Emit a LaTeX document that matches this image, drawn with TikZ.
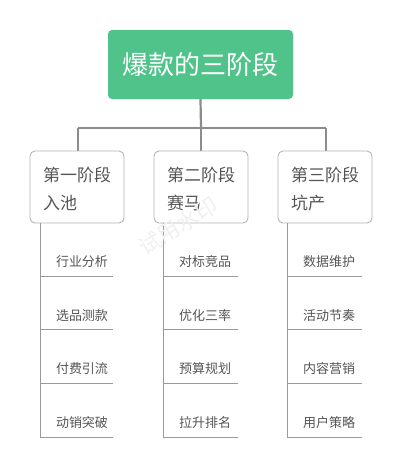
\documentclass[tikz,border=0pt]{standalone}
\usepackage{fontspec}
\setmainfont{Noto Sans CJK SC}
\begin{document}
\begin{tikzpicture}[x=1pt,y=-1pt,
  rootbox/.style={draw=none,fill=rootgreen,rounded corners=4pt,minimum width=185pt,minimum height=69pt,text=white,font=\fontsize{26}{30}\selectfont,inner sep=0pt},
  stagebox/.style={draw=boxgray,line width=0.9pt,fill=white,rounded corners=5pt,minimum width=94pt,minimum height=72pt,inner sep=0pt},
  stagetext/.style={text=textgray,font=\fontsize{17}{28}\selectfont,anchor=west,align=left,inner sep=0pt},
  itemtext/.style={text=textgray,font=\fontsize{13}{15}\selectfont,inner sep=0pt},
  trunk/.style={draw=linegray,line width=2.2pt},
  branch/.style={draw=linegray2,line width=1pt},
]
\definecolor{rootgreen}{HTML}{50C38A}
\definecolor{boxgray}{HTML}{B4B4B4}
\definecolor{textgray}{HTML}{555555}
\definecolor{linegray}{HTML}{8C8C8C}
\definecolor{linegray2}{HTML}{9A9A9A}
\useasboundingbox[fill=white] (0,0) rectangle (402,466);

% root
\node[rootbox] (root) at (200.5,64.5) {爆款的三阶段};

\coordinate (hub) at (201,128);
\coordinate (hl) at (78,128);
\coordinate (hr) at (326,128);
\draw[trunk] (root.south) -- (hub);
\draw[trunk] (hl) -- (hr);
\draw[trunk] (hl) -- (78,151);
\draw[trunk] (hub) -- (201,151);
\draw[trunk] (hr) -- (326,151);

% stage boxes
\node[stagebox] (s1) at (77,187) {};
\node[stagebox] (s2) at (201,187) {};
\node[stagebox] (s3) at (325,187) {};

\node[stagetext] (t1) at (43,189) {第一阶段\\入池};
\node[stagetext] (t2) at (167,189) {第二阶段\\赛马};
\node[stagetext] (t3) at (291,189) {第三阶段\\坑产};

% branches
\foreach \col/\x/\len/\a/\b/\c/\d in {1/40/73/行业分析/选品测款/付费引流/动销突破,
                                       2/163/75/对标竞品/优化三率/预算规划/拉升排名,
                                       3/287/75/数据维护/活动节奏/内容营销/用户策略}{
  \coordinate (top\col) at (\x,223);
  \coordinate (bot\col) at (\x,437);
  \draw[branch] (top\col) -- (bot\col);
  \foreach \i/\yy/\txt in {1/276/\a,2/329.5/\b,3/383/\c,4/437/\d}{
    \coordinate (l\col\i) at (\x,\yy);
    \coordinate (r\col\i) at (\x+\len,\yy);
    \draw[branch] (l\col\i) -- (r\col\i);
    \node[itemtext] (it\col\i) at (\x+42,\yy-14) {\txt};
  }
}

% watermark
\node[text=black!6,font=\fontsize{22}{24}\selectfont,rotate=32] (wm) at (178,226) {试用水印};
\end{tikzpicture}
\end{document}
